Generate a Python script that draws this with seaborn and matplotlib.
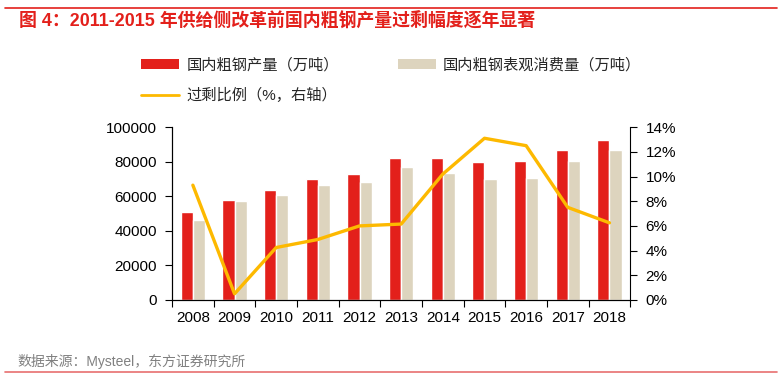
import numpy as np
import pandas as pd
import matplotlib
matplotlib.use("Agg")
import matplotlib.pyplot as plt
from matplotlib.lines import Line2D
from matplotlib.patches import Patch
from matplotlib.ticker import FixedLocator, FuncFormatter
import seaborn as sns

# data
years = ["2008", "2009", "2010", "2011", "2012", "2013", "2014", "2015", "2016", "2017", "2018"]
production = [51000, 57800, 63700, 69900, 72800, 81900, 81900, 80000, 80400, 86800, 92600]
consumption = [46200, 57200, 60800, 66500, 68500, 76800, 73700, 69800, 70400, 80400, 86800]
surplus_pct = [9.3, 0.5, 4.25, 4.9, 6.0, 6.15, 10.2, 13.1, 12.5, 7.5, 6.25]

name_prod = "国内粗钢产量（万吨）"
name_cons = "国内粗钢表观消费量（万吨）"
name_line = "过剩比例（%，右轴）"

red = "#E3201B"
beige = "#DDD4BE"
yellow = "#FDB900"

sns.set_theme(style="white")
plt.rcParams["font.family"] = ["Liberation Sans", "Noto Sans CJK SC", "DejaVu Sans"]

df = pd.DataFrame({
    "year": years * 2,
    "value": production + consumption,
    "series": [name_prod] * len(years) + [name_cons] * len(years),
})

fig = plt.figure(figsize=(7.82, 3.79), dpi=100)
ax = fig.add_axes([0.22, 0.2085, 0.586, 0.456])

sns.barplot(data=df, x="year", y="value", hue="series", order=years,
            hue_order=[name_prod, name_cons],
            palette={name_prod: red, name_cons: beige},
            width=0.58, saturation=1, legend=False, ax=ax)
ax.set_xlim(-0.5, len(years) - 0.5)
ax.set_ylim(0, 100000)
ax.set_yticks(np.arange(0, 100001, 20000))
ax.set_xlabel("")
ax.set_ylabel("")

ax2 = ax.twinx()
sns.lineplot(x=np.arange(len(years)), y=surplus_pct, color=yellow, linewidth=2.4,
             ax=ax2, sort=False)
ax2.set_ylim(0, 14)
ax2.set_yticks(np.arange(0, 15, 2))
ax2.yaxis.set_major_formatter(FuncFormatter(lambda v, p: f"{v:.0f}%"))
ax2.set_xlim(-0.5, len(years) - 0.5)

# x ticks: labels at centers, small marks between groups
ax.xaxis.set_minor_locator(FixedLocator(np.arange(-0.5, len(years), 1.0)))
ax.tick_params(axis="x", which="major", length=0, pad=8, labelsize=11, colors="black")
ax.tick_params(axis="x", which="minor", length=5, width=0.8, direction="out",
               color="black", bottom=True)
ax.tick_params(axis="y", length=5, width=0.8, direction="out", left=True,
               labelsize=11, pad=6, colors="black")
ax2.tick_params(axis="y", length=5, width=0.8, direction="out", right=True,
                labelsize=11, pad=6, colors="black")

for a in (ax, ax2):
    a.spines["top"].set_visible(False)
    for s in ("left", "right", "bottom"):
        a.spines[s].set_color("black")
        a.spines[s].set_linewidth(0.8)
ax.spines["right"].set_visible(False)

# legend (ordered so that rows read: production, consumption / ratio)
handles = [Patch(facecolor=red, edgecolor="none"),
           Line2D([0], [0], color=yellow, linewidth=2),
           Patch(facecolor=beige, edgecolor="none")]
fig.legend(handles, [name_prod, name_line, name_cons], ncol=2,
           loc="upper left", bbox_to_anchor=(0.163, 0.884), frameon=False,
           fontsize=11, handlelength=2.5, handleheight=0.6, handletextpad=0.45,
           columnspacing=3.85, labelspacing=1.0)

# title, source and rules
fig.text(0.024, 0.945, "图 4：2011-2015 年供给侧改革前国内粗钢产量过剩幅度逐年显著",
         color=red, fontsize=12.9, fontweight="bold", va="center", ha="left")
fig.add_artist(Line2D([0.006, 0.994], [0.978, 0.978], color=red, linewidth=1.2,
                      transform=fig.transFigure))
fig.text(0.022, 0.045, "数据来源：Mysteel，东方证券研究所", color="#808080",
         fontsize=10, va="center", ha="left")
fig.add_artist(Line2D([0.006, 0.994], [0.018, 0.018], color="#E87070", linewidth=1.2,
                      transform=fig.transFigure))

fig.savefig("out.png", dpi=100)
